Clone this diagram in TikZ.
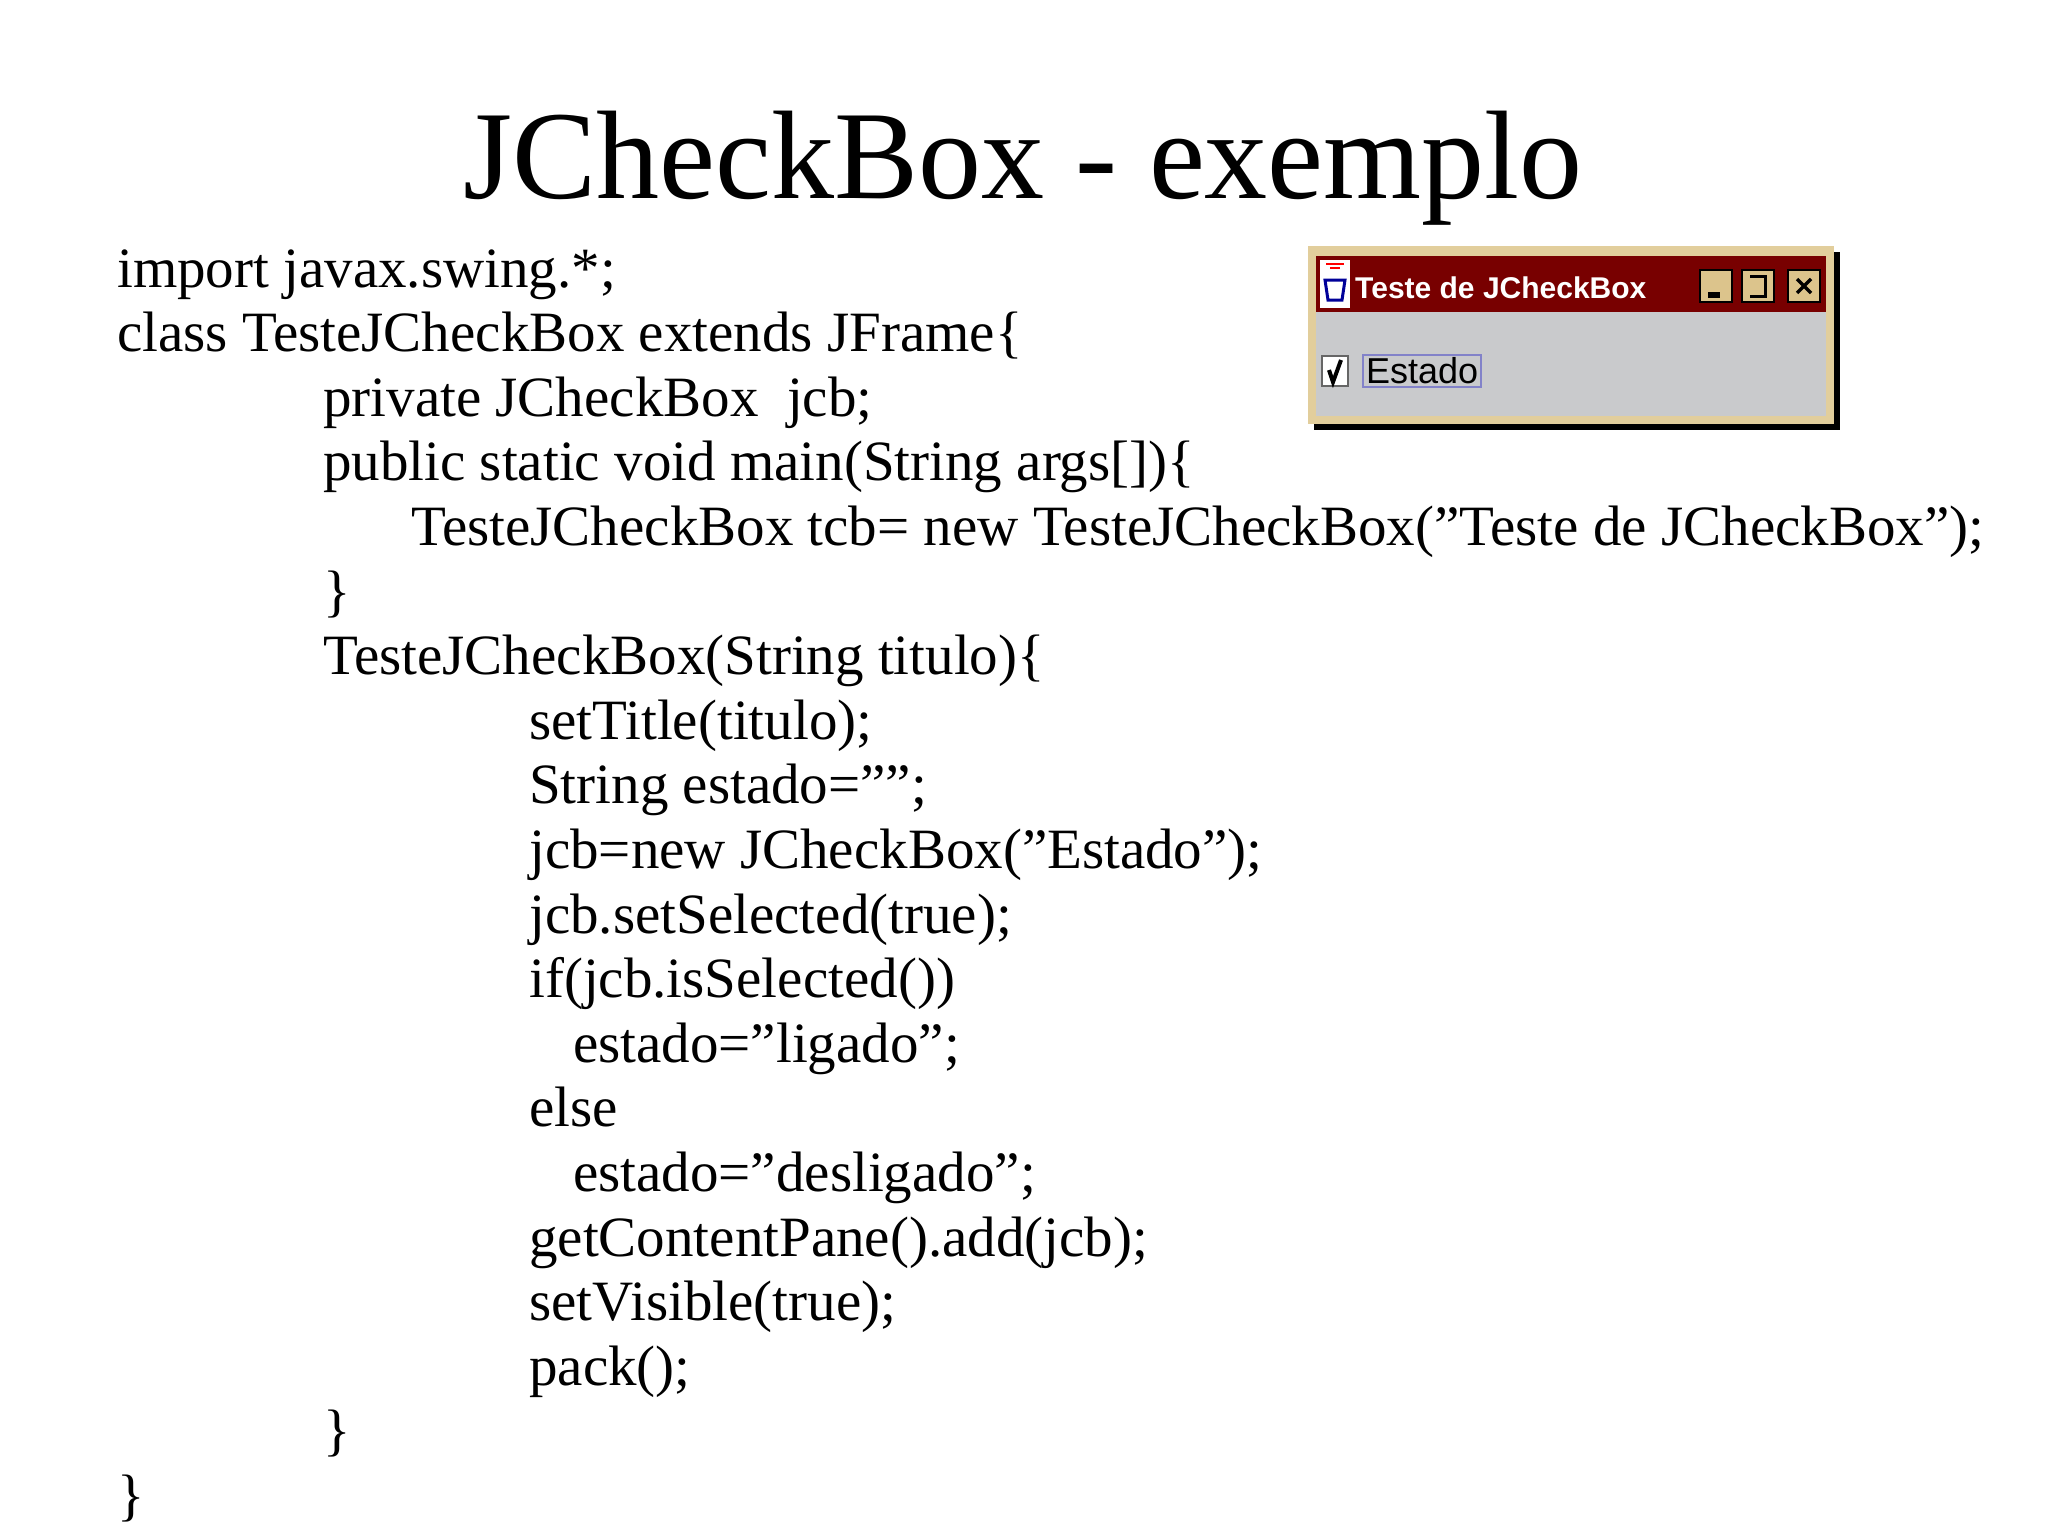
\documentclass[tikz,border=0pt]{standalone}
\usepackage{fontspec}
\setmainfont{Liberation Serif}
\newfontfamily\winfont{Liberation Sans}
\begin{document}
\begin{tikzpicture}[x=1pt,y=-1pt,
  code/.style={anchor=base west,inner sep=0pt,font=\fontsize{57}{65}\selectfont},
  btn/.style={fill=btnbeige,draw=black,line width=1.5pt}]
\definecolor{btnbeige}{HTML}{DCC48C}
\definecolor{frame}{HTML}{E2CE9C}
\definecolor{wingray}{HTML}{C9CACC}
\definecolor{barred}{HTML}{780000}
\useasboundingbox (0,0) rectangle (2048,1536);
\node[anchor=base,inner sep=0pt,font=\fontsize{126}{130}\selectfont] (title) at (1023,198) {JCheckBox - exemplo};
% code
\def\p{64.6}
\node[code] (l0) at (117,287) {import javax.swing.*;};
\node[code] (l1) at (117,287+1*\p) {class TesteJCheckBox extends JFrame\{};
\node[code] (l2) at (323,287+2*\p) {private JCheckBox\ \ jcb;};
\node[code] (l3) at (323,287+3*\p) {public static void main(String args[])\{};
\node[code] (l4) at (411,287+4*\p) {TesteJCheckBox tcb= new TesteJCheckBox("Teste de JCheckBox");};
\node[code] (l5) at (323,287+5*\p) {\}};
\node[code] (l6) at (323,287+6*\p) {TesteJCheckBox(String titulo)\{};
\node[code] (l7) at (529,287+7*\p) {setTitle(titulo);};
\node[code] (l8) at (529,287+8*\p) {String estado="";};
\node[code] (l9) at (529,287+9*\p) {jcb=new JCheckBox("Estado");};
\node[code] (l10) at (529,287+10*\p) {jcb.setSelected(true);};
\node[code] (l11) at (529,287+11*\p) {if(jcb.isSelected())};
\node[code] (l12) at (573,287+12*\p) {estado="ligado";};
\node[code] (l13) at (529,287+13*\p) {else};
\node[code] (l14) at (573,287+14*\p) {estado="desligado";};
\node[code] (l15) at (529,287+15*\p) {getContentPane().add(jcb);};
\node[code] (l16) at (529,287+16*\p) {setVisible(true);};
\node[code] (l17) at (529,287+17*\p) {pack();};
\node[code] (l18) at (323,287+18*\p) {\}};
\node[code] (l19) at (117,287+19*\p) {\}};
% window
\fill[black] (1314,252) rectangle (1840,430);
\fill[frame] (1308,246) rectangle (1834,424);
\fill[wingray] (1316,312) rectangle (1826,416);
\fill[barred] (1316,256) rectangle (1826,312);
% icon
\fill[white] (1320,260) rectangle (1350,308);
\draw[blue!60!black,line width=3pt] (1325,280) -- (1345,280) -- (1342,300) -- (1328,300) -- cycle;
\draw[red,line width=2pt] (1326,264) -- (1344,264) (1330,268) -- (1340,268);
\node[anchor=base west,inner sep=0pt,text=white,font=\winfont\bfseries\fontsize{30}{32}\selectfont] (wt) at (1355,298) {Teste de JCheckBox};
\node[btn,minimum width=32pt,minimum height=32pt,inner sep=0pt] (bmin) at (1716,286) {};
\node[btn,minimum width=32pt,minimum height=32pt,inner sep=0pt] (bmax) at (1758,286) {};
\node[btn,minimum width=32pt,minimum height=32pt,inner sep=0pt] (bcls) at (1804,286) {};
\fill[black] (1708,292) rectangle (1720,298);
\draw[black,line width=3pt] (1750,276) -- (1765,276) -- (1765,296) -- (1750,296);
\draw[black,line width=3.5pt] (1797,279) -- (1811,293) (1811,279) -- (1797,293);
% checkbox
\node[draw=black!60,line width=2pt,fill=white,minimum width=26pt,minimum height=30pt,inner sep=0pt] (cb) at (1335,371) {};
\draw[black,line width=4pt] (1329,370) -- (1333,382) -- (1341,360);
\node[draw=blue!40!gray!70,line width=2pt,inner sep=3pt,anchor=west,font=\winfont\fontsize{36}{38}\selectfont] (est) at (1362,371) {Estado};
\end{tikzpicture}
\end{document}
